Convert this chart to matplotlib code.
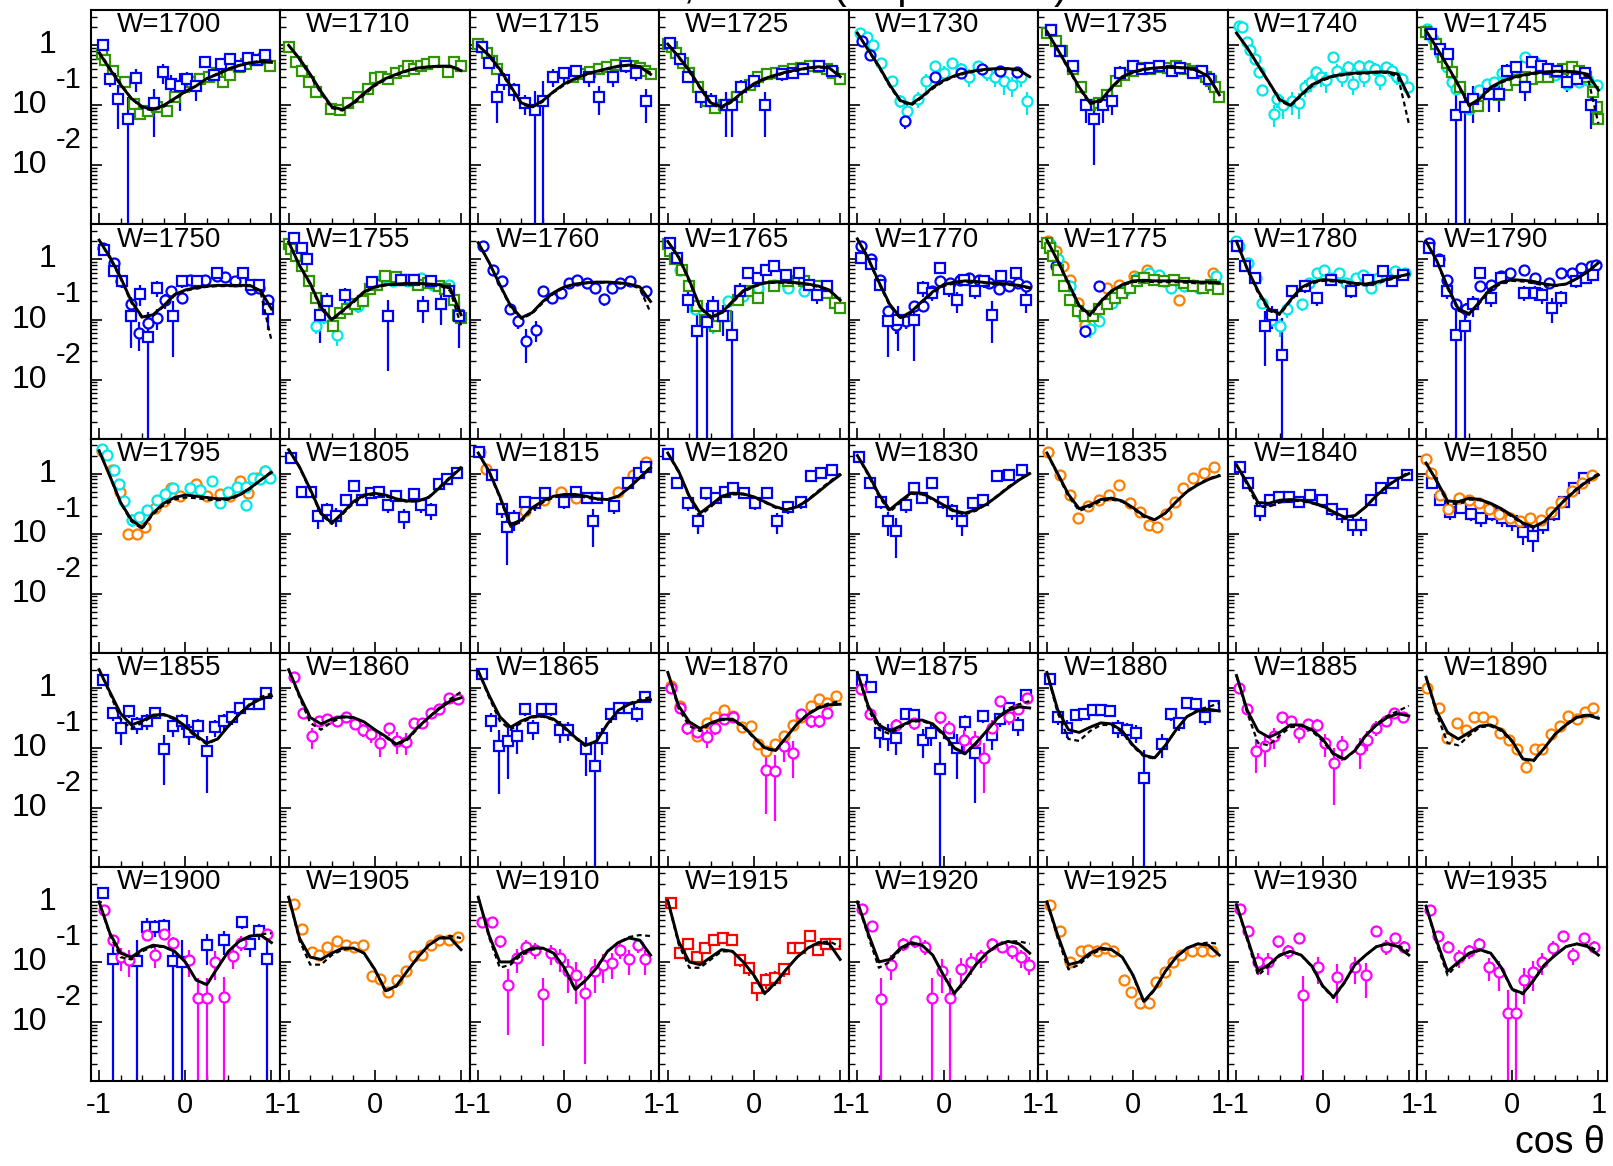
import matplotlib
matplotlib.use("Agg")
import matplotlib.pyplot as plt
from matplotlib.ticker import FixedLocator, LogLocator, NullFormatter

plt.rcParams['font.family'] = ['Liberation Sans', 'DejaVu Sans']
plt.rcParams['axes.unicode_minus'] = False

# ---------------- data ----------------
COS_GRID = [-1.0, -0.875, -0.75, -0.625, -0.5, -0.375, -0.25, -0.125, 0.0,
            0.125, 0.25, 0.375, 0.5, 0.625, 0.75, 0.875, 1.0]
W_VALUES = [1700, 1710, 1715, 1725, 1730, 1735, 1740, 1745,
            1750, 1755, 1760, 1765, 1770, 1775, 1780, 1790,
            1795, 1805, 1815, 1820, 1830, 1835, 1840, 1850,
            1855, 1860, 1865, 1870, 1875, 1880, 1885, 1890,
            1900, 1905, 1910, 1915, 1920, 1925, 1930, 1935]
X_TICKS = [-1, 0, 1]
X_TICK_LABELS = ['-1', '0', '1']
Y_TICK_VALUES = [1.0, 0.1, 0.01]
Y_TICK_BASES = ['1', '10', '10']
Y_TICK_EXPONENTS = ['', '-1', '-2']
X_TITLE = 'cos θ'
TOP_TITLE = 'Differential cross section, dσ/dΩ (π⁻p → π⁰n)'

# solid (fit) and dashed (alternative fit) curves on COS_GRID
fit_1700 = [0.75,0.4,0.22,0.13,0.095,0.085,0.1,0.13,0.17,0.21,0.28,0.33,0.4,0.46,0.51,0.53,0.52]
alt_1700 = [0.78,0.42,0.23,0.13,0.09,0.082,0.095,0.125,0.165,0.21,0.28,0.34,0.41,0.47,0.52,0.55,0.56]
fit_1710 = [1.0,0.6,0.33,0.17,0.095,0.085,0.11,0.16,0.22,0.28,0.33,0.38,0.42,0.44,0.45,0.45,0.38]
alt_1710 = [1.0,0.58,0.31,0.16,0.09,0.082,0.105,0.15,0.21,0.27,0.32,0.37,0.41,0.43,0.44,0.44,0.4]
fit_1715 = [1.0,0.68,0.4,0.21,0.11,0.095,0.12,0.17,0.23,0.28,0.33,0.37,0.41,0.45,0.47,0.44,0.33]
alt_1715 = [1.0,0.66,0.38,0.2,0.105,0.092,0.115,0.165,0.22,0.27,0.32,0.36,0.4,0.44,0.46,0.44,0.35]
fit_1725 = [1.05,0.65,0.38,0.2,0.11,0.095,0.12,0.17,0.23,0.28,0.32,0.36,0.39,0.42,0.44,0.42,0.3]
alt_1725 = [1.05,0.63,0.36,0.19,0.105,0.09,0.115,0.165,0.22,0.27,0.31,0.35,0.38,0.41,0.43,0.42,0.32]
fit_1730 = [1.6,0.85,0.45,0.22,0.12,0.105,0.14,0.2,0.26,0.31,0.35,0.38,0.4,0.41,0.41,0.39,0.3]
alt_1730 = [1.6,0.83,0.43,0.21,0.115,0.1,0.135,0.19,0.25,0.3,0.34,0.37,0.39,0.4,0.4,0.38,0.3]
fit_1735 = [1.7,0.85,0.42,0.2,0.11,0.12,0.2,0.3,0.36,0.4,0.42,0.43,0.43,0.42,0.38,0.3,0.15]
alt_1735 = [1.7,0.83,0.4,0.19,0.105,0.115,0.19,0.29,0.35,0.39,0.41,0.42,0.42,0.41,0.37,0.3,0.16]
fit_1740 = [1.6,0.91,0.47,0.245,0.126,0.1,0.15,0.22,0.27,0.31,0.33,0.345,0.35,0.36,0.36,0.33,0.14]
alt_1740 = [1.6,0.9,0.46,0.24,0.12,0.097,0.145,0.21,0.26,0.3,0.32,0.335,0.34,0.35,0.35,0.3,0.05]
fit_1745 = [1.75,0.91,0.45,0.22,0.1,0.13,0.2,0.25,0.29,0.32,0.345,0.36,0.37,0.37,0.36,0.33,0.18]
alt_1745 = [1.75,0.9,0.44,0.21,0.097,0.125,0.19,0.24,0.28,0.31,0.335,0.35,0.36,0.36,0.35,0.3,0.05]

fit_1750 = [2.1,1.1,0.5,0.2,0.11,0.12,0.17,0.26,0.31,0.34,0.36,0.37,0.37,0.37,0.37,0.3,0.15]
alt_1750 = [2.1,1.05,0.48,0.19,0.105,0.115,0.165,0.25,0.3,0.33,0.35,0.36,0.36,0.36,0.36,0.28,0.045]
fit_1755 = [1.95,0.8,0.4,0.16,0.1,0.14,0.2,0.29,0.35,0.38,0.39,0.4,0.4,0.39,0.38,0.33,0.12]
alt_1755 = [1.95,0.78,0.38,0.15,0.097,0.135,0.19,0.28,0.34,0.37,0.38,0.39,0.39,0.38,0.37,0.3,0.08]
fit_1760 = [1.9,0.9,0.38,0.17,0.107,0.13,0.2,0.28,0.35,0.39,0.41,0.42,0.42,0.41,0.39,0.35,0.2]
alt_1760 = [1.9,0.88,0.37,0.16,0.103,0.125,0.19,0.27,0.34,0.38,0.4,0.41,0.41,0.4,0.38,0.33,0.13]
fit_1765 = [2.0,1.1,0.45,0.16,0.11,0.13,0.2,0.3,0.36,0.41,0.42,0.42,0.41,0.39,0.36,0.31,0.21]
alt_1765 = [2.0,1.07,0.43,0.155,0.105,0.125,0.19,0.29,0.35,0.4,0.41,0.41,0.4,0.38,0.35,0.3,0.21]
fit_1770 = [2.2,1.05,0.42,0.18,0.107,0.135,0.2,0.29,0.38,0.42,0.44,0.43,0.41,0.4,0.39,0.37,0.34]
alt_1770 = [2.2,1.02,0.4,0.17,0.103,0.13,0.19,0.28,0.36,0.4,0.42,0.42,0.4,0.39,0.38,0.36,0.33]
fit_1775 = [2.1,0.95,0.4,0.17,0.12,0.2,0.3,0.38,0.44,0.45,0.44,0.44,0.44,0.43,0.42,0.42,0.41]
alt_1775 = [2.1,0.93,0.38,0.16,0.115,0.19,0.29,0.37,0.42,0.43,0.42,0.42,0.42,0.41,0.4,0.4,0.4]
fit_1780 = [2.0,0.7,0.3,0.15,0.125,0.21,0.34,0.42,0.46,0.45,0.43,0.4,0.39,0.42,0.47,0.52,0.57]
alt_1780 = [2.0,0.68,0.28,0.14,0.12,0.2,0.32,0.4,0.44,0.43,0.41,0.38,0.37,0.4,0.45,0.5,0.57]
fit_1790 = [2.0,0.95,0.35,0.15,0.125,0.2,0.33,0.42,0.46,0.45,0.43,0.39,0.37,0.39,0.48,0.62,0.88]
alt_1790 = [2.0,0.92,0.33,0.14,0.12,0.19,0.31,0.4,0.44,0.43,0.4,0.37,0.36,0.39,0.48,0.63,0.9]

fit_1795 = [2.4,0.91,0.33,0.17,0.125,0.22,0.32,0.4,0.44,0.42,0.4,0.38,0.38,0.44,0.57,0.78,1.05]
alt_1795 = [2.4,0.9,0.32,0.16,0.12,0.21,0.3,0.37,0.4,0.39,0.37,0.36,0.37,0.43,0.56,0.78,1.08]
fit_1805 = [2.5,1.3,0.55,0.22,0.15,0.22,0.34,0.44,0.47,0.44,0.38,0.35,0.35,0.4,0.58,0.85,1.24]
alt_1805 = [2.5,1.27,0.52,0.21,0.145,0.21,0.32,0.42,0.45,0.42,0.37,0.34,0.35,0.41,0.6,0.88,1.3]
fit_1815 = [2.2,1.1,0.42,0.14,0.17,0.27,0.35,0.42,0.45,0.45,0.42,0.38,0.37,0.42,0.58,0.85,1.25]
alt_1815 = [2.2,1.05,0.4,0.13,0.16,0.25,0.33,0.4,0.43,0.43,0.4,0.37,0.37,0.42,0.59,0.87,1.3]
fit_1820 = [2.2,1.1,0.42,0.22,0.3,0.42,0.47,0.46,0.41,0.34,0.28,0.25,0.28,0.36,0.5,0.7,0.95]
alt_1820 = [2.2,1.05,0.4,0.2,0.28,0.4,0.45,0.45,0.4,0.33,0.27,0.25,0.28,0.37,0.52,0.73,1.0]
fit_1830 = [2.0,1.0,0.45,0.25,0.35,0.48,0.47,0.38,0.3,0.24,0.22,0.25,0.31,0.42,0.58,0.78,1.0]
alt_1830 = [2.0,0.95,0.42,0.23,0.33,0.46,0.45,0.37,0.29,0.23,0.21,0.24,0.31,0.43,0.6,0.8,1.03]
fit_1835 = [2.2,1.0,0.45,0.26,0.3,0.37,0.39,0.35,0.27,0.2,0.17,0.22,0.34,0.5,0.65,0.8,0.92]
alt_1835 = [2.2,0.95,0.42,0.24,0.28,0.35,0.37,0.34,0.26,0.19,0.17,0.22,0.34,0.51,0.67,0.82,0.95]
fit_1840 = [1.4,0.7,0.33,0.32,0.36,0.37,0.36,0.33,0.29,0.23,0.19,0.2,0.28,0.43,0.62,0.82,1.0]
alt_1840 = [1.4,0.65,0.28,0.28,0.33,0.35,0.35,0.32,0.28,0.22,0.18,0.2,0.28,0.44,0.64,0.85,1.05]
fit_1850 = [1.5,0.75,0.35,0.34,0.39,0.37,0.32,0.26,0.2,0.15,0.13,0.16,0.25,0.38,0.55,0.75,0.95]
alt_1850 = [1.5,0.72,0.32,0.31,0.37,0.36,0.31,0.25,0.19,0.145,0.125,0.16,0.25,0.39,0.57,0.78,1.0]

fit_1855 = [2.0,0.85,0.37,0.24,0.28,0.35,0.36,0.31,0.23,0.16,0.12,0.14,0.23,0.36,0.52,0.65,0.73]
alt_1855 = [2.0,0.8,0.3,0.21,0.26,0.34,0.35,0.3,0.22,0.15,0.115,0.14,0.23,0.37,0.54,0.7,0.8]
fit_1860 = [2.0,0.75,0.32,0.25,0.3,0.33,0.32,0.27,0.2,0.155,0.115,0.14,0.22,0.32,0.45,0.6,0.68]
alt_1860 = [2.0,0.7,0.26,0.2,0.27,0.32,0.32,0.27,0.2,0.15,0.11,0.135,0.21,0.32,0.47,0.65,0.85]
fit_1865 = [1.9,0.75,0.33,0.22,0.28,0.33,0.34,0.3,0.22,0.15,0.11,0.13,0.25,0.42,0.53,0.6,0.63]
alt_1865 = [1.9,0.7,0.28,0.2,0.26,0.32,0.33,0.29,0.21,0.145,0.105,0.13,0.25,0.42,0.55,0.63,0.7]
fit_1870 = [1.8,0.5,0.27,0.21,0.26,0.3,0.3,0.23,0.15,0.1,0.09,0.15,0.25,0.36,0.46,0.52,0.53]
alt_1870 = [1.8,0.45,0.23,0.19,0.25,0.29,0.29,0.22,0.145,0.097,0.088,0.15,0.25,0.37,0.48,0.55,0.6]
fit_1875 = [1.8,0.5,0.24,0.19,0.23,0.28,0.29,0.25,0.17,0.1,0.08,0.12,0.19,0.31,0.42,0.48,0.46]
alt_1875 = [1.8,0.45,0.2,0.17,0.22,0.27,0.28,0.24,0.16,0.097,0.078,0.115,0.19,0.32,0.45,0.53,0.6]
fit_1880 = [1.8,0.43,0.2,0.18,0.22,0.26,0.25,0.19,0.11,0.075,0.068,0.11,0.2,0.33,0.41,0.44,0.41]
alt_1880 = [1.8,0.38,0.14,0.13,0.19,0.24,0.24,0.18,0.105,0.072,0.066,0.11,0.2,0.33,0.43,0.48,0.55]
fit_1885 = [1.6,0.42,0.19,0.15,0.18,0.24,0.24,0.2,0.14,0.08,0.065,0.09,0.16,0.24,0.32,0.37,0.34]
alt_1885 = [1.6,0.38,0.12,0.11,0.16,0.22,0.23,0.19,0.13,0.077,0.063,0.09,0.16,0.25,0.34,0.41,0.5]
fit_1890 = [1.5,0.4,0.18,0.14,0.18,0.23,0.24,0.2,0.13,0.065,0.062,0.1,0.17,0.24,0.32,0.35,0.31]
alt_1890 = [1.5,0.36,0.12,0.11,0.16,0.22,0.23,0.19,0.125,0.063,0.06,0.1,0.17,0.25,0.33,0.36,0.33]

fit_1900 = [1.0,0.3,0.14,0.12,0.16,0.19,0.18,0.15,0.1,0.05,0.042,0.08,0.15,0.22,0.27,0.28,0.21]
alt_1900 = [1.0,0.28,0.12,0.11,0.15,0.18,0.18,0.15,0.1,0.05,0.041,0.08,0.15,0.22,0.27,0.29,0.3]
fit_1905 = [1.2,0.25,0.12,0.11,0.14,0.17,0.17,0.14,0.075,0.033,0.04,0.07,0.12,0.19,0.25,0.25,0.16]
alt_1905 = [1.2,0.23,0.09,0.09,0.13,0.16,0.17,0.14,0.073,0.032,0.039,0.07,0.12,0.19,0.25,0.27,0.25]
fit_1910 = [1.2,0.28,0.1,0.1,0.14,0.17,0.17,0.14,0.08,0.035,0.05,0.08,0.15,0.21,0.25,0.23,0.13]
alt_1910 = [1.2,0.26,0.08,0.09,0.13,0.16,0.17,0.14,0.078,0.034,0.049,0.08,0.15,0.21,0.26,0.28,0.27]
fit_1915 = [1.05,0.22,0.1,0.09,0.12,0.16,0.15,0.1,0.06,0.03,0.045,0.075,0.12,0.17,0.21,0.2,0.11]
alt_1915 = [1.05,0.2,0.08,0.08,0.11,0.15,0.15,0.1,0.058,0.029,0.044,0.075,0.12,0.17,0.21,0.22,0.18]
fit_1920 = [1.0,0.3,0.1,0.11,0.17,0.21,0.19,0.13,0.06,0.03,0.05,0.09,0.14,0.19,0.22,0.2,0.14]
alt_1920 = [1.0,0.27,0.08,0.1,0.16,0.2,0.19,0.13,0.058,0.029,0.049,0.09,0.14,0.19,0.22,0.22,0.2]
fit_1925 = [1.0,0.28,0.09,0.1,0.14,0.17,0.16,0.12,0.06,0.022,0.035,0.07,0.12,0.17,0.2,0.19,0.13]
alt_1925 = [1.0,0.25,0.075,0.09,0.13,0.16,0.16,0.12,0.058,0.021,0.034,0.07,0.12,0.17,0.2,0.21,0.2]
fit_1930 = [0.9,0.25,0.07,0.09,0.13,0.15,0.13,0.085,0.04,0.026,0.045,0.09,0.13,0.18,0.2,0.18,0.13]
alt_1930 = [0.9,0.23,0.06,0.085,0.125,0.15,0.13,0.083,0.039,0.025,0.044,0.09,0.13,0.18,0.2,0.19,0.15]
fit_1935 = [0.85,0.22,0.07,0.1,0.14,0.16,0.14,0.08,0.035,0.03,0.05,0.09,0.13,0.18,0.2,0.18,0.13]
alt_1935 = [0.85,0.2,0.06,0.095,0.135,0.155,0.14,0.078,0.034,0.029,0.049,0.09,0.13,0.18,0.2,0.19,0.15]

# measured points: (cos theta, value, error)
green_1700 = [(-0.97,0.73,0.05),(-0.93,0.56,0.04),(-0.835,0.38,0.03),(-0.70,0.245,0.02),(-0.60,0.107,0.01),(-0.525,0.073,0.008),(-0.43,0.082,0.008),(-0.33,0.094,0.009),(-0.215,0.082,0.008),(-0.12,0.138,0.01),(-0.02,0.2,0.015),(0.075,0.245,0.02),(0.17,0.28,0.02),(0.27,0.3,0.02),(0.365,0.34,0.025),(0.44,0.245,0.02),(0.52,0.32,0.025),(0.62,0.435,0.03),(0.71,0.49,0.035),(0.81,0.56,0.04),(0.91,0.6,0.04),(0.98,0.46,0.04)]
blue_sq_1700 = [(-0.96,1.0,0.1),(-0.87,0.28,0.08),(-0.78,0.13,0.09),(-0.67,0.06,0.08),(-0.57,0.29,0.12),(-0.36,0.11,0.08),(-0.26,0.36,0.13),(-0.16,0.23,0.09),(-0.06,0.21,0.13),(0.02,0.28,0.08),(0.13,0.21,0.09),(0.23,0.53,0.1),(0.33,0.32,0.08),(0.42,0.49,0.06),(0.52,0.6,0.08),(0.64,0.46,0.06),(0.73,0.62,0.07),(0.83,0.56,0.08),(0.93,0.68,0.08)]
green_1710 = [(-1.0,0.94,0.04),(-0.91,0.53,0.03),(-0.84,0.38,0.02),(-0.76,0.245,0.015),(-0.68,0.17,0.01),(-0.51,0.088,0.006),(-0.41,0.083,0.006),(-0.31,0.11,0.008),(-0.20,0.138,0.01),(-0.08,0.19,0.012),(0.0,0.29,0.015),(0.07,0.3,0.015),(0.15,0.28,0.015),(0.25,0.34,0.02),(0.34,0.38,0.02),(0.38,0.45,0.02),(0.46,0.41,0.02),(0.54,0.46,0.02),(0.61,0.48,0.02),(0.69,0.53,0.025),(0.85,0.36,0.02),(0.92,0.53,0.025),(1.0,0.46,0.02)]
green_1715 = [(-1.0,1.05,0.04),(-0.96,0.95,0.04),(-0.9,0.75,0.03),(-0.84,0.55,0.03),(-0.78,0.4,0.02),(0.1,0.3,0.02),(0.2,0.33,0.02),(0.3,0.36,0.02),(0.4,0.4,0.02),(0.5,0.43,0.02),(0.6,0.47,0.025),(0.7,0.5,0.025),(0.8,0.46,0.025),(0.88,0.42,0.02),(0.94,0.38,0.02),(1.0,0.33,0.02)]
blue_sq_1715 = [(-0.96,0.95,0.1),(-0.87,0.5,0.1),(-0.78,0.14,0.09),(-0.7,0.26,0.08),(-0.58,0.18,0.06),(-0.46,0.11,0.04),(-0.34,0.085,0.09),(-0.25,0.12,0.13),(-0.13,0.3,0.1),(0.0,0.34,0.1),(0.14,0.37,0.08),(0.28,0.3,0.1),(0.4,0.14,0.07),(0.56,0.3,0.1),(0.71,0.45,0.1),(0.83,0.35,0.1),(0.95,0.12,0.07)]
green_1725 = [(-1.0,1.05,0.04),(-0.95,0.95,0.04),(-0.9,0.75,0.03),(-0.82,0.5,0.03),(-0.75,0.35,0.02),(-0.65,0.2,0.015),(-0.55,0.12,0.01),(-0.45,0.09,0.008),(-0.35,0.1,0.008),(-0.2,0.14,0.01),(-0.05,0.22,0.015),(0.05,0.3,0.02),(0.15,0.33,0.02),(0.25,0.35,0.02),(0.35,0.38,0.02),(0.45,0.4,0.02),(0.55,0.42,0.02),(0.65,0.45,0.02),(0.75,0.44,0.02),(0.85,0.4,0.02),(0.92,0.35,0.02),(1.0,0.27,0.02)]
blue_sq_1725 = [(-0.98,1.1,0.1),(-0.86,0.6,0.08),(-0.77,0.3,0.06),(-0.62,0.14,0.05),(-0.5,0.12,0.04),(-0.33,0.1,0.07),(-0.25,0.1,0.07),(-0.15,0.2,0.06),(0.0,0.25,0.06),(0.13,0.1,0.07),(0.33,0.33,0.08),(0.45,0.35,0.07),(0.57,0.4,0.08),(0.75,0.45,0.08),(0.9,0.38,0.07)]
cyan_1730 = [(-0.97,1.58,0.15),(-0.89,1.36,0.12),(-0.82,1.0,0.1),(-0.72,0.5,0.06),(-0.6,0.25,0.04),(-0.5,0.12,0.03),(-0.42,0.08,0.025),(-0.3,0.13,0.04),(-0.2,0.25,0.08),(-0.1,0.45,0.1),(0.0,0.35,0.1),(0.1,0.5,0.1),(0.2,0.4,0.1),(0.3,0.3,0.1),(0.4,0.45,0.1),(0.5,0.35,0.1),(0.6,0.3,0.1),(0.7,0.25,0.1),(0.8,0.22,0.08),(0.9,0.3,0.1),(0.97,0.12,0.05)]
blue_ci_1730 = [(-0.95,1.2,0.1),(-0.85,0.7,0.07),(-0.45,0.055,0.015),(-0.1,0.3,0.04),(0.2,0.35,0.04),(0.45,0.4,0.04),(0.65,0.38,0.04),(0.85,0.36,0.04)]
green_1735 = [(-1.0,1.6,0.1),(-0.95,1.8,0.1),(-0.9,1.2,0.08),(-0.82,0.8,0.05),(-0.7,0.4,0.03),(-0.6,0.2,0.015),(-0.5,0.1,0.008),(-0.4,0.11,0.008),(-0.3,0.15,0.01),(-0.2,0.25,0.015),(-0.1,0.32,0.02),(0.0,0.38,0.02),(0.1,0.42,0.02),(0.2,0.4,0.02),(0.3,0.44,0.02),(0.4,0.42,0.02),(0.5,0.45,0.02),(0.6,0.4,0.02),(0.7,0.38,0.02),(0.8,0.35,0.02),(0.85,0.3,0.02),(0.9,0.25,0.02),(0.95,0.2,0.015),(1.0,0.14,0.01)]
blue_sq_1735 = [(-0.95,1.8,0.15),(-0.85,0.8,0.1),(-0.7,0.45,0.08),(-0.55,0.1,0.05),(-0.45,0.06,0.05),(-0.35,0.1,0.05),(-0.25,0.12,0.05),(-0.15,0.35,0.1),(0.0,0.45,0.1),(0.1,0.4,0.08),(0.2,0.42,0.08),(0.3,0.45,0.08),(0.45,0.38,0.08),(0.55,0.42,0.08),(0.7,0.35,0.08),(0.8,0.38,0.08),(0.88,0.28,0.1)]
cyan_1740 = [(-0.97,2.07,0.15),(-0.94,2.0,0.15),(-0.88,1.14,0.08),(-0.84,0.83,0.06),(-0.79,0.6,0.05),(-0.74,0.36,0.04),(-0.70,0.178,0.03),(-0.57,0.073,0.03),(-0.53,0.13,0.04),(-0.46,0.1,0.04),(-0.36,0.12,0.05),(-0.27,0.11,0.05),(-0.21,0.2,0.06),(-0.14,0.245,0.08),(-0.08,0.36,0.1),(-0.02,0.3,0.1),(0.04,0.26,0.1),(0.12,0.64,0.12),(0.17,0.38,0.1),(0.23,0.3,0.1),(0.29,0.43,0.12),(0.35,0.23,0.08),(0.42,0.46,0.12),(0.48,0.3,0.1),(0.54,0.46,0.12),(0.61,0.41,0.1),(0.67,0.26,0.08),(0.73,0.43,0.1),(0.81,0.38,0.1),(0.86,0.3,0.08),(0.92,0.28,0.06),(0.99,0.2,0.04)]
green_1745 = [(-1.0,1.67,0.1),(-0.96,1.57,0.1),(-0.88,1.07,0.07),(-0.80,0.64,0.04),(-0.76,0.5,0.03),(-0.70,0.36,0.02),(-0.61,0.2,0.012),(-0.50,0.094,0.006),(-0.40,0.096,0.006),(-0.27,0.157,0.01),(-0.15,0.147,0.01),(-0.06,0.215,0.013),(0.04,0.26,0.015),(0.15,0.3,0.018),(0.23,0.28,0.017),(0.33,0.3,0.018),(0.42,0.3,0.018),(0.50,0.36,0.02),(0.59,0.41,0.025),(0.69,0.43,0.025),(0.77,0.38,0.023),(0.86,0.3,0.018),(0.94,0.167,0.01),(0.98,0.094,0.006),(1.0,0.06,0.004)]
cyan_1745 = [(-0.99,1.9,0.2),(-0.92,1.29,0.15),(-0.84,0.73,0.1),(-0.76,0.43,0.06),(-0.70,0.245,0.04),(-0.65,0.19,0.03),(-0.50,0.088,0.02),(-0.38,0.178,0.04),(-0.29,0.23,0.05),(-0.21,0.245,0.05),(-0.12,0.34,0.06),(0.0,0.36,0.06),(0.15,0.64,0.1),(0.27,0.53,0.08),(0.38,0.38,0.06),(0.50,0.32,0.05),(0.63,0.23,0.04),(0.77,0.245,0.04),(0.88,0.26,0.04),(0.98,0.215,0.04)]
blue_sq_1745 = [(-0.94,1.57,0.15),(-0.84,0.88,0.1),(-0.75,0.73,0.08),(-0.65,0.068,0.1),(-0.55,0.094,0.12),(-0.46,0.13,0.08),(-0.27,0.157,0.08),(-0.15,0.157,0.08),(-0.06,0.38,0.1),(0.04,0.43,0.1),(0.15,0.2,0.08),(0.23,0.53,0.1),(0.33,0.46,0.08),(0.42,0.41,0.08),(0.52,0.38,0.08),(0.63,0.245,0.08),(0.75,0.28,0.08),(0.84,0.34,0.08),(0.92,0.1,0.06)]

blue_ci_1750 = [(-0.95,1.56,0.12),(-0.83,0.88,0.08),(-0.75,0.44,0.06),(-0.63,0.18,0.06),(-0.54,0.06,0.03),(-0.43,0.088,0.03),(-0.33,0.107,0.04),(-0.24,0.21,0.06),(-0.16,0.3,0.06),(-0.04,0.23,0.05),(0.05,0.46,0.08),(0.14,0.41,0.07),(0.23,0.46,0.07),(0.37,0.54,0.08),(0.46,0.51,0.07),(0.58,0.43,0.07),(0.76,0.32,0.06),(0.85,0.34,0.06),(0.96,0.21,0.05)]
blue_sq_1750 = [(-0.94,1.43,0.15),(-0.83,0.64,0.1),(-0.73,0.44,0.1),(-0.63,0.114,0.08),(-0.52,0.27,0.1),(-0.43,0.051,0.08),(-0.33,0.34,0.1),(-0.14,0.114,0.09),(-0.04,0.44,0.1),(0.14,0.44,0.1),(0.37,0.6,0.12),(0.67,0.6,0.12),(0.76,0.38,0.1),(0.86,0.38,0.1),(0.96,0.147,0.08)]
green_1755 = [(-1.0,1.78,0.1),(-0.97,1.47,0.09),(-0.91,1.14,0.07),(-0.85,0.77,0.05),(-0.76,0.44,0.03),(-0.68,0.23,0.015),(-0.59,0.147,0.01),(-0.49,0.077,0.006),(-0.41,0.13,0.009),(-0.32,0.147,0.01),(-0.23,0.18,0.012),(-0.14,0.2,0.013),(-0.06,0.32,0.02),(0.03,0.38,0.025),(0.12,0.53,0.03),(0.24,0.51,0.03),(0.33,0.46,0.03),(0.41,0.46,0.03),(0.5,0.38,0.025),(0.62,0.41,0.025),(0.74,0.36,0.022),(0.82,0.32,0.02),(0.92,0.21,0.014),(0.97,0.12,0.008),(1.0,0.107,0.007)]
cyan_1755 = [(-0.85,1.0,0.15),(-0.68,0.077,0.02),(-0.59,0.11,0.025),(-0.44,0.056,0.02),(-0.32,0.157,0.04),(-0.2,0.167,0.04),(-0.02,0.41,0.08),(0.09,0.5,0.1),(0.21,0.44,0.08),(0.38,0.44,0.08),(0.53,0.5,0.1),(0.68,0.38,0.08),(0.86,0.38,0.08)]
blue_sq_1755 = [(-0.94,2.3,0.2),(-0.84,1.56,0.15),(-0.79,1.0,0.1),(-0.64,0.12,0.08),(-0.56,0.2,0.08),(-0.35,0.26,0.08),(-0.03,0.42,0.1),(0.15,0.114,0.1),(0.3,0.46,0.1),(0.45,0.46,0.1),(0.56,0.167,0.08),(0.65,0.44,0.12),(0.77,0.18,0.1),(0.86,0.3,0.1),(0.98,0.114,0.08)]
blue_ci_1760 = [(-0.94,1.67,0.12),(-0.83,0.68,0.06),(-0.73,0.44,0.05),(-0.63,0.147,0.03),(-0.54,0.094,0.025),(-0.44,0.044,0.025),(-0.33,0.068,0.025),(-0.25,0.3,0.06),(-0.14,0.23,0.05),(-0.04,0.28,0.05),(0.05,0.41,0.06),(0.15,0.45,0.06),(0.26,0.41,0.05),(0.36,0.34,0.05),(0.46,0.22,0.05),(0.55,0.34,0.05),(0.65,0.41,0.05),(0.76,0.44,0.05),(0.95,0.3,0.05)]
green_1765 = [(-1.0,1.78,0.1),(-0.97,1.38,0.09),(-0.92,1.0,0.06),(-0.83,0.68,0.04),(-0.75,0.36,0.02),(-0.66,0.167,0.01),(-0.57,0.1,0.007),(-0.45,0.077,0.006),(-0.33,0.114,0.008),(-0.18,0.21,0.013),(-0.07,0.3,0.018),(0.05,0.23,0.015),(0.23,0.36,0.022),(0.40,0.44,0.026),(0.58,0.44,0.026),(0.73,0.36,0.022),(0.85,0.28,0.017),(0.94,0.19,0.012),(1.0,0.157,0.01)]
cyan_1765 = [(-1.0,1.67,0.2),(-0.86,0.68,0.1),(-0.69,0.147,0.03),(-0.48,0.077,0.02),(-0.30,0.2,0.04),(-0.13,0.245,0.05),(0.05,0.34,0.06),(0.23,0.38,0.06),(0.4,0.34,0.06),(0.58,0.3,0.05),(0.76,0.32,0.05)]
blue_sq_1765 = [(-0.98,1.9,0.15),(-0.89,1.07,0.1),(-0.76,0.21,0.08),(-0.66,0.064,0.08),(-0.55,0.09,0.1),(-0.48,0.167,0.08),(-0.36,0.114,0.06),(-0.26,0.056,0.08),(-0.16,0.3,0.1),(-0.07,0.6,0.12),(0.05,0.5,0.1),(0.14,0.68,0.12),(0.23,0.77,0.12),(0.37,0.56,0.1),(0.52,0.6,0.1),(0.64,0.38,0.08),(0.73,0.26,0.08),(0.85,0.36,0.08)]
blue_ci_1770 = [(-0.96,1.67,0.1),(-0.84,1.0,0.08),(-0.74,0.46,0.05),(-0.64,0.137,0.03),(-0.55,0.082,0.025),(-0.44,0.094,0.025),(-0.34,0.167,0.03),(-0.24,0.167,0.03),(-0.13,0.3,0.04),(-0.04,0.44,0.05),(0.07,0.41,0.05),(0.19,0.46,0.05),(0.3,0.5,0.05),(0.41,0.46,0.05),(0.53,0.41,0.05),(0.64,0.32,0.04),(0.76,0.36,0.04),(0.87,0.41,0.05),(0.96,0.36,0.05)]
blue_sq_1770 = [(-0.96,1.07,0.1),(-0.84,0.83,0.1),(-0.74,0.38,0.08),(-0.64,0.094,0.07),(-0.53,0.1,0.07),(-0.34,0.1,0.08),(-0.24,0.34,0.1),(-0.13,0.28,0.08),(-0.04,0.73,0.12),(0.06,0.32,0.08),(0.16,0.21,0.08),(0.24,0.46,0.1),(0.36,0.3,0.08),(0.47,0.44,0.1),(0.56,0.12,0.08),(0.67,0.53,0.1),(0.84,0.6,0.1),(0.96,0.21,0.08)]
orange_1775 = [(-0.99,2.0,0.1),(-0.9,1.38,0.08),(-0.81,0.77,0.05),(-0.73,0.46,0.03),(-0.64,0.19,0.015),(-0.56,0.082,0.008),(-0.44,0.114,0.01),(-0.3,0.34,0.025),(-0.16,0.38,0.025),(0.01,0.53,0.035),(0.16,0.68,0.04),(0.36,0.44,0.03),(0.53,0.21,0.015),(0.7,0.38,0.025),(0.93,0.6,0.04)]
cyan_1775 = [(-0.96,1.78,0.15),(-0.87,1.0,0.1),(-0.73,0.36,0.05),(-0.61,0.13,0.025),(-0.5,0.07,0.02),(-0.39,0.094,0.02),(-0.24,0.19,0.03),(-0.1,0.3,0.05),(0.04,0.5,0.08),(0.19,0.6,0.08),(0.3,0.56,0.08),(0.44,0.34,0.06),(0.59,0.36,0.06),(0.76,0.34,0.05),(0.96,0.53,0.08)]
green_1775 = [(-1.0,1.85,0.1),(-0.97,1.56,0.09),(-0.93,1.14,0.07),(-0.87,0.68,0.04),(-0.8,0.36,0.02),(-0.73,0.21,0.013),(-0.64,0.137,0.009),(-0.56,0.114,0.007),(-0.47,0.114,0.007),(-0.39,0.147,0.009),(-0.3,0.18,0.011),(-0.21,0.23,0.014),(-0.13,0.28,0.017),(-0.04,0.34,0.02),(0.04,0.44,0.026),(0.13,0.5,0.03),(0.24,0.46,0.028),(0.36,0.44,0.026),(0.47,0.46,0.028),(0.59,0.41,0.025),(0.7,0.36,0.022),(0.81,0.34,0.02),(0.9,0.38,0.023),(0.99,0.32,0.02)]
blue_ci_1775 = [(-0.9,0.77,0.06),(-0.56,0.064,0.015),(-0.39,0.36,0.05)]
cyan_1780 = [(-1.0,2.0,0.15),(-0.97,1.67,0.12),(-0.87,0.88,0.08),(-0.77,0.5,0.05),(-0.7,0.19,0.03),(-0.6,0.1,0.025),(-0.5,0.077,0.025),(-0.41,0.147,0.04),(-0.36,0.3,0.06),(-0.24,0.18,0.04),(-0.16,0.41,0.08),(-0.07,0.6,0.1),(0.01,0.68,0.1),(0.1,0.5,0.08),(0.19,0.6,0.1),(0.27,0.41,0.08),(0.39,0.5,0.08),(0.47,0.56,0.09),(0.56,0.34,0.06),(0.64,0.5,0.08),(0.73,0.56,0.08),(0.84,0.64,0.08),(0.96,0.6,0.08)]
blue_sq_1780 = [(-0.99,1.7,0.15),(-0.9,0.77,0.1),(-0.79,0.5,0.08),(-0.67,0.077,0.06),(-0.59,0.12,0.05),(-0.47,0.026,0.08),(-0.36,0.3,0.08),(-0.21,0.36,0.08),(-0.07,0.23,0.06),(0.1,0.46,0.08),(0.33,0.3,0.07),(0.53,0.46,0.08),(0.7,0.64,0.1),(0.81,0.44,0.08),(0.93,0.56,0.1)]
blue_ci_1790 = [(-0.97,1.9,0.12),(-0.85,1.0,0.08),(-0.76,0.46,0.05),(-0.65,0.18,0.04),(-0.54,0.147,0.04),(-0.45,0.19,0.04),(-0.37,0.36,0.05),(-0.25,0.38,0.05),(-0.13,0.53,0.06),(-0.03,0.6,0.06),(0.14,0.68,0.07),(0.26,0.5,0.06),(0.43,0.41,0.05),(0.57,0.6,0.06),(0.69,0.6,0.06),(0.8,0.73,0.07),(0.92,0.77,0.07),(0.97,0.82,0.07)]
blue_sq_1790 = [(-0.97,1.56,0.15),(-0.85,0.94,0.1),(-0.76,0.3,0.08),(-0.65,0.056,0.08),(-0.55,0.077,0.09),(-0.45,0.18,0.07),(-0.37,0.6,0.12),(-0.25,0.23,0.07),(-0.13,0.5,0.1),(0.14,0.28,0.08),(0.26,0.28,0.08),(0.34,0.26,0.08),(0.46,0.157,0.07),(0.57,0.23,0.07),(0.74,0.44,0.1),(0.86,0.5,0.1),(0.94,0.56,0.1)]

orange_1795 = [(-0.97,2.35,0.15),(-0.85,1.17,0.08),(-0.76,0.5,0.04),(-0.66,0.1,0.02),(-0.56,0.1,0.02),(-0.47,0.13,0.02),(-0.35,0.27,0.03),(-0.25,0.35,0.03),(-0.16,0.58,0.05),(-0.06,0.42,0.04),(0.13,0.66,0.05),(0.25,0.42,0.04),(0.4,0.45,0.04),(0.52,0.42,0.04),(0.64,0.74,0.05),(0.73,0.48,0.04),(0.83,0.85,0.06),(0.92,1.1,0.07)]
cyan_1795 = [(-0.97,2.6,0.2),(-0.91,2.07,0.15),(-0.83,1.17,0.1),(-0.77,0.66,0.07),(-0.71,0.35,0.05),(-0.62,0.17,0.04),(-0.54,0.19,0.04),(-0.45,0.25,0.05),(-0.33,0.37,0.06),(-0.23,0.45,0.06),(-0.14,0.58,0.07),(0.06,0.58,0.07),(0.17,0.54,0.07),(0.31,0.74,0.08),(0.4,0.32,0.05),(0.5,0.5,0.06),(0.6,0.6,0.07),(0.7,0.6,0.07),(0.71,0.3,0.06),(0.79,0.85,0.08),(0.87,0.8,0.08),(0.92,1.1,0.1),(0.98,0.85,0.08)]
blue_sq_1805 = [(-0.97,1.8,0.12),(-0.85,0.5,0.1),(-0.74,0.5,0.1),(-0.66,0.2,0.08),(-0.55,0.25,0.08),(-0.45,0.2,0.07),(-0.34,0.37,0.08),(-0.24,0.62,0.1),(-0.15,0.37,0.08),(-0.05,0.48,0.08),(0.05,0.5,0.08),(0.15,0.3,0.08),(0.25,0.42,0.08),(0.34,0.19,0.07),(0.45,0.45,0.08),(0.54,0.3,0.08),(0.65,0.25,0.08),(0.75,0.66,0.1),(0.84,0.8,0.1),(0.95,1.03,0.12)]
orange_1815 = [(-0.98,2.3,0.15),(-0.91,1.2,0.08),(-0.46,0.24,0.03),(-0.24,0.36,0.03),(-0.04,0.5,0.04),(0.14,0.39,0.03),(0.38,0.4,0.03),(0.62,0.5,0.04),(0.8,0.96,0.07),(0.95,1.54,0.1)]
blue_sq_1815 = [(-0.99,2.3,0.2),(-0.84,0.96,0.12),(-0.73,0.26,0.08),(-0.67,0.13,0.1),(-0.58,0.18,0.07),(-0.46,0.34,0.08),(-0.34,0.32,0.08),(-0.22,0.47,0.08),(0.0,0.34,0.08),(0.14,0.5,0.1),(0.26,0.39,0.08),(0.33,0.16,0.1),(0.38,0.39,0.08),(0.57,0.29,0.08),(0.74,0.7,0.1),(0.86,1.04,0.12),(0.95,1.27,0.12)]
blue_sq_1820 = [(-1.0,2.1,0.15),(-0.89,0.7,0.1),(-0.77,0.32,0.08),(-0.65,0.16,0.06),(-0.56,0.47,0.1),(-0.44,0.39,0.08),(-0.34,0.5,0.08),(-0.24,0.57,0.08),(-0.12,0.47,0.08),(0.01,0.32,0.07),(0.15,0.47,0.08),(0.27,0.16,0.06),(0.39,0.28,0.07),(0.55,0.34,0.08),(0.66,0.92,0.1),(0.78,1.04,0.1),(0.9,1.17,0.12)]
blue_sq_1830 = [(-0.98,1.9,0.15),(-0.85,0.7,0.1),(-0.73,0.34,0.08),(-0.65,0.16,0.07),(-0.55,0.11,0.07),(-0.43,0.3,0.08),(-0.34,0.57,0.1),(-0.25,0.39,0.08),(-0.13,0.7,0.1),(-0.01,0.34,0.08),(0.1,0.24,0.07),(0.22,0.16,0.07),(0.34,0.32,0.08),(0.46,0.36,0.08),(0.62,0.92,0.1),(0.76,0.96,0.1),(0.91,1.13,0.12)]
orange_1835 = [(-0.99,2.3,0.15),(-0.85,0.96,0.07),(-0.73,0.44,0.04),(-0.64,0.18,0.02),(-0.52,0.29,0.03),(-0.4,0.36,0.03),(-0.28,0.44,0.03),(-0.16,0.65,0.05),(-0.04,0.32,0.03),(0.08,0.23,0.02),(0.19,0.14,0.015),(0.28,0.13,0.015),(0.38,0.21,0.02),(0.49,0.34,0.03),(0.58,0.58,0.04),(0.7,0.85,0.06),(0.82,1.04,0.07),(0.94,1.27,0.08)]
blue_sq_1840 = [(-0.96,1.27,0.12),(-0.87,0.7,0.1),(-0.73,0.24,0.08),(-0.61,0.36,0.08),(-0.51,0.4,0.08),(-0.39,0.4,0.08),(-0.27,0.34,0.07),(-0.15,0.44,0.08),(-0.01,0.36,0.07),(0.11,0.26,0.06),(0.23,0.21,0.06),(0.35,0.14,0.05),(0.44,0.14,0.05),(0.56,0.36,0.07),(0.68,0.58,0.08),(0.82,0.7,0.08),(0.98,0.96,0.1)]
orange_1850 = [(-1.0,1.74,0.1),(-0.94,1.04,0.07),(-0.84,0.44,0.03),(-0.75,0.26,0.02),(-0.62,0.39,0.03),(-0.5,0.36,0.03),(-0.39,0.32,0.03),(-0.27,0.26,0.02),(-0.15,0.21,0.02),(-0.03,0.18,0.015),(0.09,0.16,0.015),(0.21,0.18,0.015),(0.33,0.17,0.015),(0.45,0.23,0.02),(0.57,0.34,0.03),(0.69,0.51,0.04),(0.81,0.7,0.05),(0.93,0.96,0.07)]
blue_sq_1850 = [(-0.93,0.7,0.1),(-0.84,0.36,0.07),(-0.72,0.23,0.06),(-0.6,0.27,0.06),(-0.48,0.21,0.05),(-0.36,0.18,0.05),(-0.24,0.21,0.05),(-0.12,0.18,0.05),(0.0,0.16,0.05),(0.12,0.105,0.04),(0.24,0.09,0.04),(0.36,0.14,0.04),(0.48,0.21,0.05),(0.6,0.34,0.07),(0.72,0.58,0.08),(0.83,0.85,0.1)]

blue_sq_1855 = [(-0.96,1.32,0.12),(-0.84,0.38,0.1),(-0.75,0.21,0.1),(-0.65,0.41,0.1),(-0.56,0.25,0.08),(-0.45,0.28,0.08),(-0.35,0.38,0.08),(-0.25,0.094,0.07),(-0.14,0.23,0.08),(-0.04,0.28,0.08),(0.04,0.18,0.07),(0.15,0.23,0.07),(0.25,0.088,0.07),(0.35,0.22,0.07),(0.45,0.28,0.08),(0.54,0.32,0.08),(0.64,0.46,0.1),(0.74,0.53,0.1),(0.85,0.53,0.1),(0.94,0.83,0.12)]
magenta_1860 = [(-0.94,1.5,0.1),(-0.83,0.38,0.06),(-0.73,0.157,0.06),(-0.65,0.28,0.06),(-0.55,0.3,0.06),(-0.44,0.28,0.05),(-0.34,0.32,0.05),(-0.23,0.245,0.05),(-0.14,0.2,0.05),(-0.04,0.17,0.05),(0.06,0.12,0.05),(0.16,0.21,0.05),(0.26,0.13,0.05),(0.36,0.126,0.05),(0.46,0.26,0.05),(0.55,0.26,0.05),(0.65,0.38,0.06),(0.75,0.44,0.06),(0.86,0.68,0.08),(0.96,0.64,0.08)]
blue_sq_1865 = [(-0.96,1.67,0.12),(-0.85,0.28,0.1),(-0.76,0.107,0.09),(-0.65,0.13,0.1),(-0.55,0.16,0.08),(-0.46,0.44,0.1),(-0.36,0.215,0.08),(-0.26,0.44,0.1),(-0.16,0.44,0.1),(-0.05,0.2,0.08),(0.04,0.2,0.07),(0.25,0.094,0.06),(0.36,0.05,0.08),(0.44,0.147,0.07),(0.54,0.36,0.1),(0.63,0.46,0.1),(0.75,0.46,0.1),(0.84,0.37,0.1),(0.94,0.7,0.12)]
orange_1870 = [(-0.96,1.07,0.08),(-0.86,0.5,0.04),(-0.76,0.22,0.02),(-0.66,0.157,0.015),(-0.55,0.26,0.02),(-0.45,0.32,0.025),(-0.35,0.42,0.03),(-0.24,0.34,0.025),(-0.14,0.22,0.02),(-0.04,0.23,0.02),(0.05,0.116,0.012),(0.14,0.09,0.01),(0.24,0.116,0.012),(0.35,0.16,0.015),(0.45,0.24,0.02),(0.55,0.32,0.025),(0.66,0.5,0.04),(0.76,0.64,0.05),(0.85,0.56,0.04),(0.95,0.73,0.05)]
magenta_1870 = [(-0.96,1.0,0.1),(-0.86,0.46,0.06),(-0.78,0.215,0.05),(-0.66,0.18,0.05),(-0.55,0.15,0.05),(-0.45,0.215,0.05),(-0.35,0.3,0.06),(-0.24,0.32,0.06),(0.14,0.043,0.035),(0.24,0.041,0.035),(0.35,0.107,0.05),(0.45,0.082,0.05),(0.55,0.37,0.08),(0.66,0.28,0.07),(0.76,0.28,0.07),(0.85,0.38,0.08)]
blue_sq_1875 = [(-0.95,1.32,0.12),(-0.84,1.03,0.12),(-0.74,0.178,0.08),(-0.64,0.167,0.08),(-0.55,0.147,0.07),(-0.44,0.37,0.08),(-0.34,0.35,0.08),(-0.24,0.137,0.07),(-0.15,0.178,0.07),(-0.04,0.044,0.08),(0.06,0.178,0.07),(0.16,0.1,0.07),(0.25,0.27,0.08),(0.36,0.082,0.07),(0.46,0.34,0.08),(0.56,0.163,0.07),(0.65,0.3,0.08),(0.76,0.46,0.1),(0.86,0.24,0.08),(0.96,0.75,0.12)]
magenta_1875 = [(-0.96,0.94,0.08),(-0.85,0.37,0.06),(-0.55,0.24,0.06),(-0.34,0.26,0.06),(-0.04,0.32,0.07),(0.06,0.215,0.06),(0.24,0.137,0.06),(0.36,0.132,0.06),(0.47,0.068,0.05),(0.56,0.215,0.07),(0.65,0.61,0.1),(0.76,0.32,0.08),(0.86,0.44,0.08),(0.97,0.68,0.1)]
blue_sq_1880 = [(-0.97,1.38,0.12),(-0.87,0.32,0.08),(-0.77,0.215,0.07),(-0.66,0.35,0.07),(-0.57,0.37,0.07),(-0.47,0.42,0.08),(-0.37,0.42,0.08),(-0.27,0.41,0.08),(-0.17,0.215,0.07),(-0.07,0.195,0.06),(0.03,0.178,0.06),(0.13,0.032,0.06),(0.33,0.117,0.05),(0.44,0.36,0.08),(0.53,0.26,0.07),(0.63,0.56,0.1),(0.73,0.53,0.1),(0.83,0.32,0.08),(0.94,0.5,0.1)]
magenta_1885 = [(-0.97,1.0,0.08),(-0.88,0.44,0.06),(-0.77,0.088,0.05),(-0.67,0.107,0.06),(-0.57,0.157,0.06),(-0.47,0.32,0.07),(-0.37,0.28,0.06),(-0.27,0.178,0.06),(-0.17,0.245,0.06),(-0.07,0.24,0.06),(0.03,0.12,0.05),(0.13,0.056,0.045),(0.23,0.11,0.05),(0.43,0.094,0.05),(0.52,0.137,0.05),(0.62,0.215,0.06),(0.73,0.28,0.06),(0.83,0.38,0.07),(0.93,0.32,0.06)]
orange_1890 = [(-0.99,1.0,0.07),(-0.85,0.46,0.04),(-0.76,0.147,0.015),(-0.64,0.26,0.02),(-0.54,0.2,0.02),(-0.44,0.32,0.025),(-0.34,0.32,0.025),(-0.24,0.28,0.02),(-0.14,0.178,0.015),(-0.04,0.137,0.013),(0.06,0.094,0.01),(0.16,0.048,0.008),(0.26,0.094,0.01),(0.35,0.094,0.01),(0.45,0.167,0.015),(0.55,0.23,0.02),(0.65,0.34,0.025),(0.75,0.3,0.025),(0.84,0.4,0.03),(0.94,0.46,0.03)]

blue_sq_1900 = [(-0.96,1.39,0.15),(-0.84,0.113,0.13),(-0.56,0.103,0.13),(-0.45,0.38,0.15),(-0.35,0.38,0.12),(-0.25,0.4,0.12),(-0.14,0.103,0.13),(-0.04,0.1,0.13),(0.25,0.19,0.1),(0.45,0.23,0.1),(0.66,0.47,0.12),(0.75,0.2,0.08),(0.85,0.33,0.1),(0.95,0.11,0.13)]
magenta_1900 = [(-0.94,0.74,0.08),(-0.84,0.23,0.05),(-0.75,0.12,0.05),(-0.65,0.107,0.05),(-0.45,0.28,0.06),(-0.35,0.13,0.05),(-0.25,0.29,0.06),(-0.14,0.21,0.05),(0.04,0.107,0.05),(0.15,0.025,0.03),(0.25,0.025,0.03),(0.34,0.1,0.05),(0.45,0.026,0.03),(0.55,0.126,0.05),(0.65,0.21,0.06),(0.95,0.29,0.06)]
orange_1905 = [(-0.94,0.92,0.06),(-0.84,0.35,0.03),(-0.73,0.146,0.013),(-0.65,0.13,0.012),(-0.55,0.18,0.015),(-0.44,0.22,0.018),(-0.34,0.19,0.016),(-0.24,0.18,0.015),(-0.14,0.19,0.016),(-0.03,0.058,0.007),(0.06,0.052,0.007),(0.15,0.032,0.006),(0.26,0.05,0.007),(0.36,0.07,0.008),(0.46,0.126,0.012),(0.55,0.13,0.012),(0.65,0.19,0.016),(0.75,0.23,0.018),(0.86,0.23,0.018),(0.96,0.26,0.02)]
magenta_1910 = [(-0.96,0.46,0.06),(-0.84,0.47,0.06),(-0.75,0.22,0.05),(-0.65,0.041,0.035),(-0.55,0.116,0.05),(-0.45,0.18,0.05),(-0.34,0.16,0.05),(-0.25,0.029,0.025),(-0.16,0.14,0.05),(-0.05,0.117,0.05),(0.04,0.07,0.04),(0.14,0.06,0.04),(0.24,0.03,0.028),(0.35,0.07,0.04),(0.45,0.09,0.045),(0.55,0.097,0.045),(0.65,0.16,0.05),(0.75,0.11,0.05),(0.85,0.19,0.05),(0.94,0.11,0.05)]
red_1915 = [(-0.96,0.95,0.06),(-0.86,0.14,0.03),(-0.76,0.2,0.04),(-0.66,0.12,0.03),(-0.57,0.17,0.03),(-0.46,0.23,0.04),(-0.36,0.25,0.04),(-0.26,0.23,0.04),(-0.16,0.107,0.025),(-0.06,0.078,0.02),(0.04,0.037,0.015),(0.14,0.05,0.015),(0.24,0.055,0.015),(0.35,0.076,0.02),(0.45,0.17,0.03),(0.54,0.17,0.03),(0.65,0.27,0.04),(0.74,0.16,0.03),(0.84,0.2,0.035),(0.94,0.2,0.035)]
magenta_1920 = [(-0.95,0.76,0.07),(-0.83,0.4,0.05),(-0.73,0.024,0.03),(-0.61,0.09,0.04),(-0.47,0.2,0.05),(-0.33,0.22,0.05),(-0.22,0.18,0.05),(-0.13,0.025,0.03),(-0.02,0.07,0.04),(0.08,0.025,0.03),(0.2,0.077,0.04),(0.32,0.1,0.04),(0.44,0.12,0.04),(0.56,0.2,0.05),(0.68,0.18,0.04),(0.8,0.15,0.04),(0.9,0.12,0.04),(0.99,0.09,0.03)]
orange_1925 = [(-0.97,0.9,0.06),(-0.85,0.33,0.03),(-0.73,0.1,0.01),(-0.61,0.15,0.012),(-0.52,0.16,0.013),(-0.42,0.15,0.012),(-0.33,0.17,0.014),(-0.23,0.15,0.012),(-0.11,0.05,0.006),(-0.02,0.031,0.005),(0.08,0.021,0.004),(0.18,0.021,0.004),(0.27,0.046,0.006),(0.37,0.068,0.007),(0.46,0.1,0.009),(0.56,0.13,0.011),(0.68,0.15,0.012),(0.8,0.15,0.012),(0.92,0.15,0.012)]
magenta_1930 = [(-0.96,0.76,0.07),(-0.87,0.33,0.05),(-0.75,0.1,0.04),(-0.63,0.1,0.04),(-0.52,0.22,0.05),(-0.4,0.15,0.04),(-0.28,0.25,0.05),(-0.23,0.028,0.03),(-0.05,0.083,0.04),(0.17,0.056,0.035),(0.38,0.083,0.04),(0.5,0.06,0.035),(0.62,0.33,0.06),(0.74,0.18,0.05),(0.84,0.25,0.05),(0.94,0.18,0.04)]
magenta_1935 = [(-0.96,0.73,0.07),(-0.86,0.27,0.05),(-0.74,0.18,0.04),(-0.62,0.12,0.04),(-0.5,0.15,0.04),(-0.39,0.2,0.05),(-0.27,0.083,0.035),(-0.15,0.068,0.035),(-0.05,0.014,0.02),(0.04,0.014,0.02),(0.14,0.05,0.03),(0.24,0.068,0.035),(0.35,0.1,0.04),(0.47,0.17,0.05),(0.59,0.27,0.05),(0.71,0.13,0.04),(0.83,0.25,0.05),(0.95,0.18,0.04)]

FITS = [fit_1700, fit_1710, fit_1715, fit_1725, fit_1730, fit_1735, fit_1740, fit_1745,
        fit_1750, fit_1755, fit_1760, fit_1765, fit_1770, fit_1775, fit_1780, fit_1790,
        fit_1795, fit_1805, fit_1815, fit_1820, fit_1830, fit_1835, fit_1840, fit_1850,
        fit_1855, fit_1860, fit_1865, fit_1870, fit_1875, fit_1880, fit_1885, fit_1890,
        fit_1900, fit_1905, fit_1910, fit_1915, fit_1920, fit_1925, fit_1930, fit_1935]
ALTS = [alt_1700, alt_1710, alt_1715, alt_1725, alt_1730, alt_1735, alt_1740, alt_1745,
        alt_1750, alt_1755, alt_1760, alt_1765, alt_1770, alt_1775, alt_1780, alt_1790,
        alt_1795, alt_1805, alt_1815, alt_1820, alt_1830, alt_1835, alt_1840, alt_1850,
        alt_1855, alt_1860, alt_1865, alt_1870, alt_1875, alt_1880, alt_1885, alt_1890,
        alt_1900, alt_1905, alt_1910, alt_1915, alt_1920, alt_1925, alt_1930, alt_1935]
DATASETS = [
    [('green', green_1700), ('blue_sq', blue_sq_1700)],
    [('green', green_1710)],
    [('green', green_1715), ('blue_sq', blue_sq_1715)],
    [('green', green_1725), ('blue_sq', blue_sq_1725)],
    [('cyan', cyan_1730), ('blue_ci', blue_ci_1730)],
    [('green', green_1735), ('blue_sq', blue_sq_1735)],
    [('cyan', cyan_1740)],
    [('cyan', cyan_1745), ('green', green_1745), ('blue_sq', blue_sq_1745)],
    [('blue_ci', blue_ci_1750), ('blue_sq', blue_sq_1750)],
    [('cyan', cyan_1755), ('green', green_1755), ('blue_sq', blue_sq_1755)],
    [('blue_ci', blue_ci_1760)],
    [('cyan', cyan_1765), ('green', green_1765), ('blue_sq', blue_sq_1765)],
    [('blue_ci', blue_ci_1770), ('blue_sq', blue_sq_1770)],
    [('orange', orange_1775), ('cyan', cyan_1775), ('blue_ci', blue_ci_1775), ('green', green_1775)],
    [('cyan', cyan_1780), ('blue_sq', blue_sq_1780)],
    [('blue_ci', blue_ci_1790), ('blue_sq', blue_sq_1790)],
    [('orange', orange_1795), ('cyan', cyan_1795)],
    [('blue_sq', blue_sq_1805)],
    [('orange', orange_1815), ('blue_sq', blue_sq_1815)],
    [('blue_sq', blue_sq_1820)],
    [('blue_sq', blue_sq_1830)],
    [('orange', orange_1835)],
    [('blue_sq', blue_sq_1840)],
    [('blue_sq', blue_sq_1850), ('orange', orange_1850)],
    [('blue_sq', blue_sq_1855)],
    [('magenta', magenta_1860)],
    [('blue_sq', blue_sq_1865)],
    [('orange', orange_1870), ('magenta', magenta_1870)],
    [('blue_sq', blue_sq_1875), ('magenta', magenta_1875)],
    [('blue_sq', blue_sq_1880)],
    [('magenta', magenta_1885)],
    [('orange', orange_1890)],
    [('blue_sq', blue_sq_1900), ('magenta', magenta_1900)],
    [('orange', orange_1905)],
    [('magenta', magenta_1910)],
    [('red', red_1915)],
    [('magenta', magenta_1920)],
    [('orange', orange_1925)],
    [('magenta', magenta_1930)],
    [('magenta', magenta_1935)],
]

# ---------------- styles ----------------
STYLES = {
    'green':   ('s', '#2f9600', 6.8),
    'blue_sq': ('s', '#0000ff', 6.8),
    'blue_ci': ('o', '#0000ff', 7.2),
    'cyan':    ('o', '#00e8e8', 7.2),
    'orange':  ('o', '#ff8000', 7.2),
    'magenta': ('o', '#ff00ff', 7.2),
    'red':     ('s', '#ff0000', 6.8),
}

FIG_W, FIG_H = 1613, 1166
LEFT, RIGHT, TOP, BOTTOM = 90.5, 1607.0, 10.3, 1081.0
NCOL, NROW = 8, 5
YMIN, YMAX = 1.04e-3, 3.83
XMIN, XMAX = -1.1, 1.1

fig = plt.figure(figsize=(FIG_W / 100, FIG_H / 100), dpi=100)
pw = (RIGHT - LEFT) / NCOL
ph = (BOTTOM - TOP) / NROW

for i, w in enumerate(W_VALUES):
    r, c = divmod(i, NCOL)
    x0 = (LEFT + c * pw) / FIG_W
    y0 = 1 - (TOP + (r + 1) * ph) / FIG_H
    ax = fig.add_axes([x0, y0, pw / FIG_W, ph / FIG_H])
    ax.set_yscale('log')
    ax.set_xlim(XMIN, XMAX)
    ax.set_ylim(YMIN, YMAX)

    for key, pts in DATASETS[i]:
        marker, color, ms = STYLES[key]
        xs = [p[0] for p in pts]
        ys = [p[1] for p in pts]
        lo = [max(p[1] - p[2], 1e-6) for p in pts]
        hi = [p[1] + p[2] for p in pts]
        ax.vlines(xs, lo, hi, colors=color, linewidth=1.6, zorder=2)
        ax.plot(xs, ys, linestyle='none', marker=marker, markersize=ms,
                markerfacecolor='white', markeredgecolor=color,
                markeredgewidth=1.6, zorder=3)

    ax.plot(COS_GRID, ALTS[i], color='black', linewidth=1.6,
            linestyle=(0, (2.2, 1.6)), zorder=4)
    ax.plot(COS_GRID, FITS[i], color='black', linewidth=2.1, zorder=5)

    ax.text(0.137, 0.99, 'W=%d' % w, transform=ax.transAxes, ha='left', va='top',
            fontsize=20, color='black', zorder=6)

    for s in ax.spines.values():
        s.set_linewidth(1.5)
    ax.xaxis.set_major_locator(FixedLocator(X_TICKS))
    ax.xaxis.set_minor_locator(FixedLocator([-0.75, -0.5, -0.25, 0.25, 0.5, 0.75]))
    ax.yaxis.set_major_locator(LogLocator(base=10, numticks=10))
    ax.yaxis.set_minor_locator(LogLocator(base=10, subs=[2, 3, 4, 5, 6, 7, 8, 9], numticks=20))
    ax.yaxis.set_minor_formatter(NullFormatter())
    ax.tick_params(axis='both', which='major', direction='in', length=8, width=1.2,
                   top=False, right=False)
    ax.tick_params(axis='both', which='minor', direction='in', length=4.5, width=1.0,
                   top=False, right=False)
    ax.set_yticklabels([])
    if r == NROW - 1:
        ax.set_xticklabels(X_TICK_LABELS, fontsize=21)
        ax.tick_params(axis='x', which='major', pad=7)
    else:
        ax.set_xticklabels([])

    if c == 0:
        trans = ax.get_yaxis_transform()
        raise_fac = 10 ** (25.0 / 60.0)
        for yv, base, expo in zip(Y_TICK_VALUES, Y_TICK_BASES, Y_TICK_EXPONENTS):
            if expo == '':
                ax.text(-0.18, yv, base, transform=trans, ha='right', va='center',
                        fontsize=23, clip_on=False)
            else:
                ax.text(-0.228, yv, base, transform=trans, ha='right', va='center',
                        fontsize=23, clip_on=False)
                ax.text(-0.045, yv * raise_fac, expo, transform=trans, ha='right',
                        va='center', fontsize=21, clip_on=False)

fig.text(1605 / FIG_W, 1 - 1143 / FIG_H, X_TITLE, ha='right', va='center', fontsize=27)
fig.text(1068 / FIG_W, 1 + 2.0 / FIG_H, TOP_TITLE, ha='right', va='baseline', fontsize=30)

fig.savefig('out.png', dpi=100)
